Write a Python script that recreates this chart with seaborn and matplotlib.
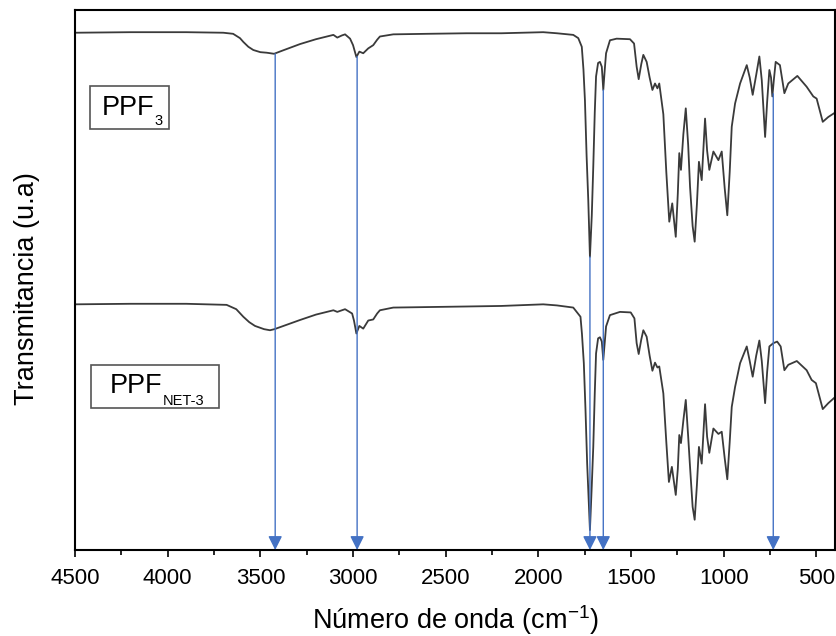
import matplotlib
matplotlib.use("Agg")
import matplotlib.pyplot as plt
from matplotlib.patches import Rectangle
from matplotlib.ticker import MultipleLocator
import numpy as np
import pandas as pd
import seaborn as sns

# Espectro superior (PPF3): número de onda y transmitancia (u.a.)
wn_sup = [4500, 4200, 3900, 3700, 3647, 3610, 3592, 3565, 3538, 3500, 3466, 3426,
          3380, 3286, 3200, 3106, 3085, 3060, 3043, 3016, 3000, 2982, 2966, 2945,
          2918, 2891, 2870, 2855, 2783, 2600, 2387, 2200, 1974, 1900, 1812, 1785,
          1766, 1757, 1749, 1740, 1731, 1722, 1712, 1704, 1696, 1689, 1678, 1668,
          1658, 1650, 1642, 1635, 1614, 1578, 1506, 1484, 1470, 1459, 1445, 1434,
          1416, 1400, 1385, 1371, 1358, 1348, 1326, 1310, 1294, 1278, 1259, 1248,
          1240, 1231, 1218, 1205, 1192, 1182, 1168, 1157, 1145, 1134, 1119, 1101,
          1090, 1078, 1056, 1029, 1011, 995, 981, 968, 957, 939, 912, 876, 860,
          844, 825, 808, 795, 777, 766, 754, 745, 738, 730, 720, 697, 673, 652,
          603, 553, 517, 499, 466, 436, 400]
t_sup = [95.8, 95.9, 95.9, 95.8, 95.6, 94.8, 94.1, 93.2, 92.6, 92.2, 92.1, 91.9,
         92.5, 93.7, 94.6, 95.4, 94.9, 95.3, 95.5, 94.7, 93.5, 91.3, 92.3, 92.0,
         92.9, 93.5, 94.5, 95.1, 95.5, 95.6, 95.7, 95.7, 95.9, 95.7, 95.4, 94.8,
         93.2, 89.0, 83.3, 73.0, 64.8, 54.3, 62.0, 71.0, 81.0, 87.7, 90.2, 90.4,
         89.5, 85.2, 89.0, 92.0, 94.4, 94.7, 94.6, 93.8, 89.5, 87.2, 90.0, 91.7,
         90.4, 87.5, 85.2, 86.4, 85.5, 86.4, 80.7, 70.0, 60.8, 64.2, 58.0, 66.0,
         73.5, 70.4, 77.0, 81.8, 75.0, 67.3, 60.0, 57.1, 64.0, 71.9, 68.5, 79.9,
         74.0, 70.4, 73.8, 72.2, 73.8, 67.0, 62.0, 70.0, 78.4, 82.7, 86.4, 89.8, 87.5,
         84.3, 88.0, 91.4, 87.0, 76.5, 83.0, 88.9, 87.5, 84.0, 87.0, 90.4, 89.8, 84.6, 86.4,
         87.8, 85.8, 84.0, 83.6, 79.3, 80.2, 81.0]

# Espectro inferior (PPF NET-3)
wn_inf = [4500, 4200, 3900, 3682, 3630, 3592, 3560, 3529, 3480, 3448, 3424, 3286,
          3200, 3106, 3085, 3060, 3043, 3005, 2995, 2982, 2966, 2945, 2918, 2891,
          2870, 2855, 2783, 2387, 2200, 1974, 1900, 1812, 1773, 1765, 1755, 1746,
          1737, 1722, 1712, 1704, 1696, 1689, 1678, 1668, 1658, 1650, 1642, 1635,
          1614, 1560, 1502, 1482, 1470, 1459, 1445, 1434, 1416, 1400, 1385, 1371,
          1358, 1348, 1326, 1310, 1296, 1280, 1259, 1248, 1240, 1231, 1218, 1205,
          1192, 1182, 1168, 1157, 1145, 1134, 1119, 1101, 1090, 1078, 1056, 1029,
          1011, 995, 981, 968, 957, 939, 912, 876, 860, 844, 825, 808, 795, 777,
          766, 754, 733, 712, 693, 673, 652, 606, 553, 526, 503, 466, 436, 400]
t_inf = [45.5, 45.6, 45.6, 45.4, 44.6, 43.2, 42.2, 41.5, 40.9, 40.7, 40.9, 42.6,
         43.6, 44.4, 44.1, 44.4, 44.6, 43.8, 42.5, 40.1, 41.5, 41.0, 42.5, 42.7,
         43.8, 44.4, 44.9, 45.1, 45.2, 45.5, 45.3, 44.9, 43.2, 40.0, 34.6, 26.0,
         16.0, 3.7, 12.0, 19.1, 29.0, 36.4, 39.2, 39.4, 38.6, 35.2, 38.5, 41.4,
         43.5, 44.1, 44.0, 42.9, 38.3, 36.3, 39.0, 40.7, 39.5, 36.0, 33.2, 34.7,
         33.8, 34.0, 29.0, 20.0, 12.6, 15.4, 10.2, 15.0, 21.3, 19.8, 24.0, 27.8,
         21.0, 15.4, 8.0, 5.6, 12.0, 19.1, 16.0, 27.0, 21.0, 18.0, 22.5, 21.5,
         21.9, 17.0, 13.1, 20.0, 26.5, 30.2, 34.6, 37.7, 35.0, 32.1, 36.0, 38.8, 35.0, 27.2,
         33.0, 37.7, 38.3, 38.6, 37.7, 33.3, 34.3, 35.0, 33.3, 31.5, 30.9, 26.1, 27.2, 28.3]

# Bandas marcadas con flechas (inicio sobre el espectro superior)
bandas_x = [3420, 2978, 1722, 1650, 733]
bandas_t = [91.9, 91.4, 54.3, 85.2, 84.5]

etiquetas = ["PPF", "PPF"]
subindices = ["3", "NET-3"]

#%%
sns.set_theme(style="white")
plt.rcParams["font.family"] = "Liberation Sans"
plt.rcParams["mathtext.fontset"] = "custom"
plt.rcParams["mathtext.rm"] = "Liberation Sans"
plt.rcParams["mathtext.it"] = "Liberation Sans:italic"

fig = plt.figure(figsize=(8.37, 6.36), dpi=100)
ax = fig.add_axes([0.0896, 0.1352, 0.908, 0.849])

df_sup = pd.DataFrame({"wn": wn_sup, "T": t_sup})
df_inf = pd.DataFrame({"wn": wn_inf, "T": t_inf})
sns.lineplot(data=df_sup, x="wn", y="T", ax=ax, color="#3a3a3a", lw=1.3, estimator=None)
sns.lineplot(data=df_inf, x="wn", y="T", ax=ax, color="#3a3a3a", lw=1.3, estimator=None)

azul = "#4472C4"
for xb, tb in zip(bandas_x, bandas_t):
    ax.annotate("", xy=(xb, 0), xytext=(xb, tb), annotation_clip=False,
                arrowprops=dict(arrowstyle="-|>,head_length=0.6,head_width=0.3",
                                color=azul, lw=1.0, shrinkA=0, shrinkB=0,
                                mutation_scale=14))

ax.set_xlim(4500, 400)
ax.set_ylim(0, 100)
ax.xaxis.set_major_locator(MultipleLocator(500))
ax.xaxis.set_minor_locator(MultipleLocator(250))
ax.set_yticks([])
ax.tick_params(axis="x", which="major", bottom=True, direction="out", length=5,
               width=1.2, color="black", labelsize=16, labelcolor="black", pad=8)
ax.tick_params(axis="x", which="minor", bottom=True, direction="out", length=3.5,
               width=1.2, color="black")
for s in ax.spines.values():
    s.set_color("black")
    s.set_linewidth(1.5)

ax.set_xlabel(r"Número de onda (cm$^{-1}$)", fontsize=19.5, color="black", labelpad=10)
ax.set_ylabel("Transmitancia (u.a)", fontsize=19.5, color="black")
ax.yaxis.set_label_coords(-0.046, 0.484)

# cajas con nombres de las muestras
cajas = [(0.0197, 0.7796, 0.1040, 0.0794), (0.0207, 0.2624, 0.1692, 0.0796)]
pos_txt = [(0.0351, 0.8056), (0.0451, 0.2902)]
pos_sub = [(0.1045, 0.787), (0.1160, 0.2685)]
for i in range(2):
    ax.add_patch(Rectangle(cajas[i][:2], cajas[i][2], cajas[i][3], transform=ax.transAxes,
                           fc="white", ec="#555555", lw=1.2, zorder=5))
    ax.text(*pos_txt[i], etiquetas[i], transform=ax.transAxes, fontsize=19.5,
            va="baseline", ha="left", color="black", zorder=6)
    ax.text(*pos_sub[i], subindices[i], transform=ax.transAxes, fontsize=10.5,
            va="baseline", ha="left", color="black", zorder=6)

fig.savefig("out.png", dpi=100)
